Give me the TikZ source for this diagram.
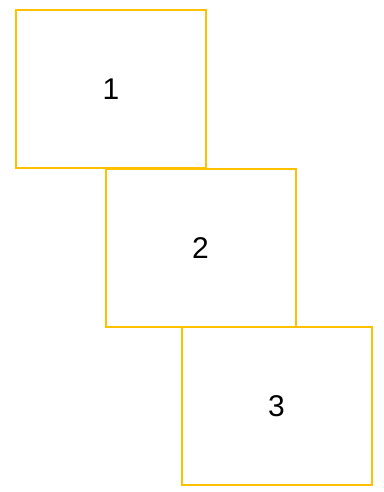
\documentclass[tikz,border=0pt]{standalone}
\usepackage{fontspec}
\setmainfont{Liberation Sans}
\usepackage{xcolor}
\usetikzlibrary{positioning}
\definecolor{boxorange}{HTML}{FFC000}

\begin{document}
\begin{tikzpicture}[x=1pt,y=-1pt,font=\fontsize{30}{36}\selectfont,
  box/.style={draw=boxorange,line width=2pt,minimum width=190pt,minimum height=158pt,inner sep=0pt,outer sep=0pt,fill=white}]
  \useasboundingbox (0,0) rectangle (383,492);
  \node[box] (b1) at (111,89) {1};
  \node[box,below=1pt of b1,xshift=89.5pt] (b2) {2};
  \node[box,below=0pt of b2,xshift=76pt] (b3) {3};
\end{tikzpicture}
\end{document}
